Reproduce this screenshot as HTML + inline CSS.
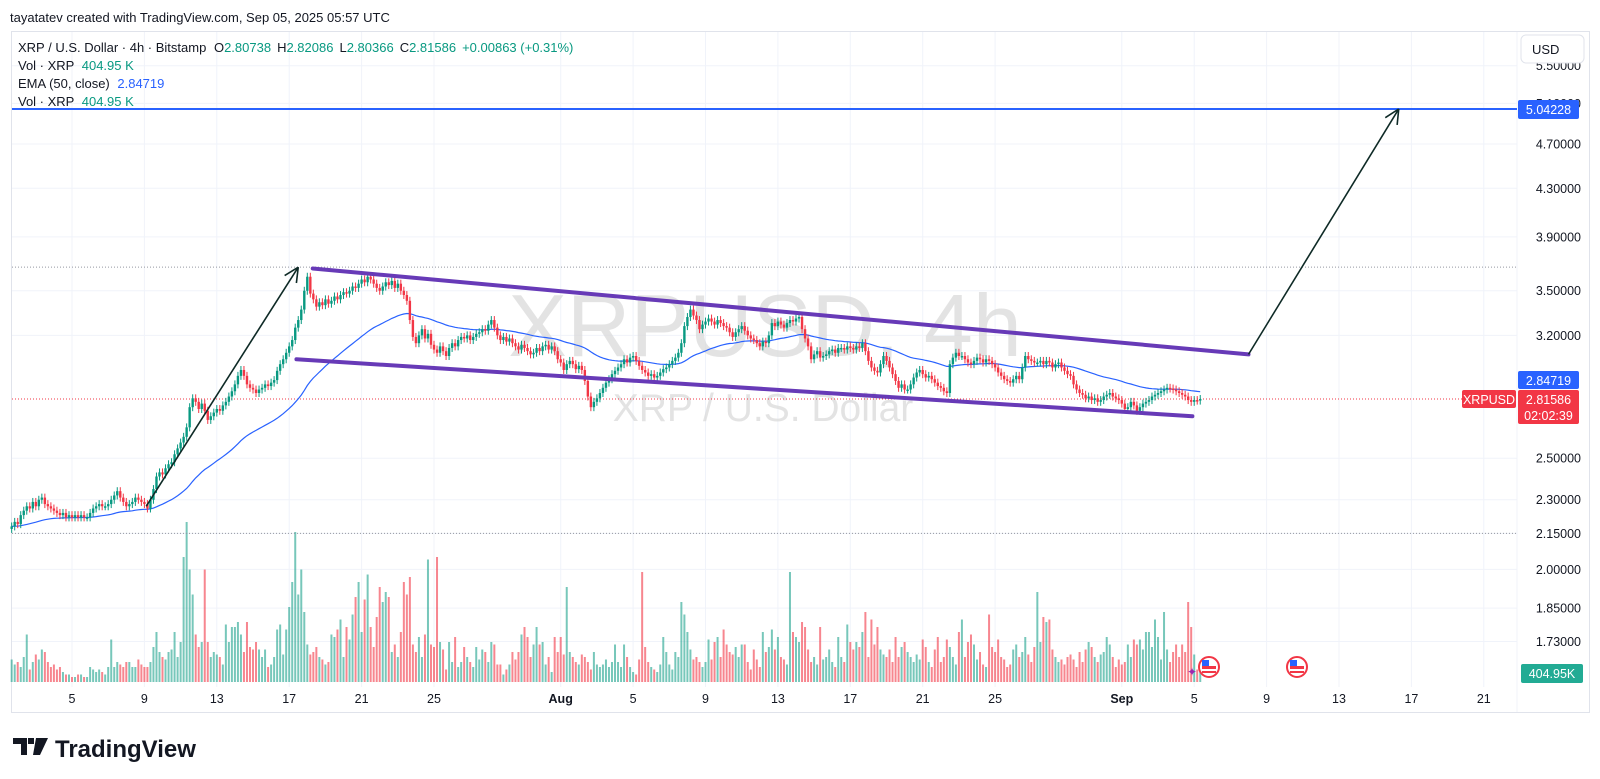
<!DOCTYPE html>
<html><head><meta charset="utf-8"><style>
html,body{margin:0;padding:0;background:#fff;}
body{width:1600px;height:779px;overflow:hidden;position:relative;font-family:"Liberation Sans",sans-serif;}
svg{position:absolute;left:0;top:0;}
</style></head><body>
<svg id="chart" width="1600" height="779" viewBox="0 0 1600 779" xmlns="http://www.w3.org/2000/svg" font-family="Liberation Sans, sans-serif">
  <text x="10" y="22" font-size="13" fill="#131722">tayatatev created with TradingView.com, Sep 05, 2025 05:57 UTC</text>
  <rect x="11.5" y="31.5" width="1578" height="681" fill="#fff" stroke="#e0e3eb"/>
  <g id="grid"></g>
  <g id="watermark">
    <text x="765" y="356" font-size="88" fill="#d9d9d9" fill-opacity="0.75" text-anchor="middle">XRPUSD, 4h</text>
    <text x="763" y="421" font-size="39" fill="#d9d9d9" fill-opacity="0.75" text-anchor="middle">XRP / U.S. Dollar</text>
  </g>
  <g id="vol"></g>
  <g id="lines"></g>
  <path id="ema" fill="none" stroke="#2962ff" stroke-width="1.2"/>
  <g id="candles"></g>
  <g id="draw"></g>
  <g id="axis"></g>
  <g id="taxis"></g>
  <g font-size="13" fill="#131722">
    <text x="18" y="52">XRP / U.S. Dollar · 4h · Bitstamp <tspan dx="4">O</tspan><tspan fill="#089981">2.80738</tspan><tspan dx="6">H</tspan><tspan fill="#089981">2.82086</tspan><tspan dx="6">L</tspan><tspan fill="#089981">2.80366</tspan><tspan dx="6">C</tspan><tspan fill="#089981">2.81586</tspan><tspan dx="6" fill="#089981">+0.00863 (+0.31%)</tspan></text>
    <text x="18" y="70">Vol · XRP <tspan dx="4" fill="#089981">404.95 K</tspan></text>
    <text x="18" y="88">EMA (50, close) <tspan dx="4" fill="#2962ff">2.84719</tspan></text>
    <text x="18" y="106">Vol · XRP <tspan dx="4" fill="#089981">404.95 K</tspan></text>
  </g>
  <g>
    <rect x="1521" y="35" width="63" height="28" rx="5" fill="#fff" stroke="#e0e3eb"/>
    <text x="1532" y="54" font-size="13" fill="#131722">USD</text>
  </g>
  <g>
    <path d="M13 738 h14 v17 h-6 v-11 h-8z M28 738 h6 v6 h-6z M36 738 h12 l-8 17 h-7z" fill="#131722"/>
    <text x="55" y="757" font-size="24" font-weight="bold" fill="#131722">TradingView</text>
  </g>
</svg>
<script>
const closes=[
2.18,2.20,2.19,2.23,2.25,2.27,2.26,2.29,2.27,2.30,
2.31,2.28,2.27,2.26,2.25,2.24,2.23,2.24,2.22,2.23,
2.22,2.23,2.22,2.23,2.22,2.22,2.24,2.26,2.27,2.28,
2.27,2.27,2.28,2.30,2.32,2.34,2.31,2.29,2.27,2.28,
2.29,2.31,2.30,2.29,2.28,2.26,2.30,2.35,2.41,2.43,
2.42,2.45,2.47,2.48,2.52,2.55,2.58,2.61,2.66,2.77,
2.82,2.80,2.76,2.79,2.75,2.70,2.72,2.74,2.76,2.75,
2.78,2.80,2.83,2.86,2.90,2.95,2.985,2.95,2.90,2.88,
2.87,2.85,2.87,2.88,2.90,2.89,2.91,2.925,2.98,3.02,
3.05,3.09,3.13,3.17,3.25,3.30,3.37,3.50,3.60,3.48,
3.44,3.39,3.42,3.40,3.44,3.41,3.43,3.46,3.44,3.47,
3.49,3.48,3.50,3.53,3.52,3.55,3.58,3.56,3.60,3.58,
3.55,3.52,3.50,3.53,3.56,3.54,3.57,3.52,3.55,3.50,
3.47,3.43,3.30,3.19,3.15,3.20,3.24,3.18,3.21,3.14,
3.11,3.09,3.13,3.10,3.07,3.12,3.15,3.13,3.17,3.19,
3.18,3.20,3.17,3.19,3.21,3.22,3.24,3.23,3.27,3.30,
3.25,3.20,3.17,3.19,3.16,3.18,3.15,3.13,3.11,3.14,
3.12,3.10,3.08,3.09,3.12,3.10,3.13,3.14,3.11,3.13,
3.10,3.05,3.03,2.985,3.02,3.04,3.02,2.99,3.01,2.985,
2.92,2.83,2.77,2.80,2.82,2.85,2.88,2.91,2.93,2.96,
2.98,3.00,3.02,3.05,3.03,3.06,3.07,3.04,3.01,2.985,
2.97,2.95,2.96,2.94,2.95,2.97,2.99,3.00,3.02,3.04,
3.06,3.09,3.15,3.26,3.32,3.37,3.33,3.30,3.24,3.27,
3.29,3.31,3.29,3.27,3.30,3.28,3.26,3.25,3.22,3.19,
3.22,3.24,3.26,3.23,3.20,3.18,3.17,3.15,3.13,3.16,
3.15,3.20,3.28,3.26,3.29,3.27,3.25,3.28,3.30,3.29,
3.31,3.32,3.24,3.18,3.13,3.05,3.08,3.10,3.06,3.07,
3.08,3.10,3.11,3.09,3.12,3.12,3.11,3.13,3.12,3.11,
3.13,3.12,3.15,3.10,3.04,3.00,2.98,2.97,3.02,3.07,
3.04,3.00,2.96,2.92,2.88,2.90,2.87,2.87,2.90,2.94,
2.97,2.985,2.96,2.94,2.95,2.93,2.91,2.89,2.88,2.86,
2.85,3.02,3.06,3.09,3.07,3.07,3.05,3.03,3.02,3.04,
3.06,3.05,3.03,3.05,3.04,3.02,3.00,2.97,2.95,2.93,
2.92,2.91,2.93,2.95,2.93,3.00,3.07,3.05,3.04,3.03,
3.03,3.04,3.02,3.04,3.03,3.00,3.02,3.03,3.00,2.98,
2.96,2.95,2.90,2.87,2.85,2.84,2.82,2.83,2.81,2.82,
2.80,2.81,2.83,2.84,2.85,2.83,2.82,2.81,2.79,2.76,
2.77,2.80,2.78,2.75,2.77,2.79,2.80,2.81,2.83,2.84,
2.85,2.86,2.87,2.88,2.876,2.87,2.86,2.85,2.84,2.83,
2.81,2.80,2.81,2.807,2.816];
const volumes=[
0.9,0.7,0.8,0.6,1.0,1.9,0.5,0.8,1.1,0.9,
1.3,1.2,0.8,0.6,0.7,0.5,0.6,0.4,0.3,0.3,
0.2,0.2,0.3,0.3,0.2,0.2,0.6,0.5,0.4,0.5,
0.4,0.3,0.6,1.7,0.6,0.8,0.7,0.6,0.8,0.8,
0.6,0.6,0.9,0.7,0.6,0.6,0.8,1.4,2.0,1.2,
1.0,0.9,1.2,1.3,2.0,1.0,1.6,5.0,6.4,4.5,
3.5,1.9,1.4,1.6,4.5,1.6,1.0,1.2,1.1,1.0,
0.7,2.3,1.6,2.2,2.2,2.4,1.9,1.2,2.4,1.4,
1.3,1.6,1.3,1.0,1.3,0.6,0.7,1.0,2.1,2.3,
1.1,2.1,3.0,4.0,6.0,3.5,4.5,2.8,1.5,1.1,
1.2,1.4,1.0,0.9,0.7,0.8,1.9,1.8,2.1,2.5,
1.0,2.2,1.7,2.7,3.4,4.0,2.0,3.3,4.3,2.2,
1.4,2.6,3.8,3.2,3.6,3.4,1.2,1.5,1.0,2.0,
4.0,3.5,4.2,1.5,1.2,1.8,1.0,1.9,4.9,1.5,
1.4,5.0,1.6,1.3,0.5,1.6,0.8,1.8,0.6,0.8,
1.4,1.0,0.8,0.6,1.4,0.9,1.3,1.2,0.8,1.6,
1.5,0.7,0.7,0.3,0.5,0.7,1.2,0.9,1.2,1.9,
2.2,1.8,1.0,1.5,2.2,1.5,1.6,0.7,1.0,0.4,
1.8,1.2,1.8,1.1,3.8,1.2,1.0,0.8,0.7,1.1,
1.0,0.8,0.5,1.2,0.7,0.6,0.7,0.9,0.6,0.8,
1.5,0.8,0.6,1.5,1.0,0.6,0.4,0.3,0.9,4.4,
1.4,0.8,0.6,0.5,0.4,0.7,1.8,1.2,0.7,0.5,
1.2,1.0,3.2,2.7,2.0,1.3,0.9,1.0,0.8,0.6,
0.8,1.7,0.9,1.6,1.8,1.0,2.1,1.5,1.2,1.1,
1.4,1.0,1.5,1.5,0.8,0.5,1.3,0.9,0.6,2.0,
1.2,1.4,2.1,1.3,1.8,1.0,0.9,0.7,4.4,2.0,
1.8,1.6,2.4,2.2,1.3,0.8,1.0,0.7,2.2,0.9,
1.0,1.3,0.8,0.6,1.8,1.0,0.8,2.3,1.6,1.3,
1.6,1.4,2.0,2.8,1.0,2.5,1.5,2.2,1.3,1.1,
1.0,1.3,0.8,1.8,1.0,1.4,1.6,1.2,1.0,0.8,
1.1,0.9,1.7,1.4,0.8,0.6,1.3,1.8,0.8,1.0,
1.7,1.4,1.0,0.7,2.0,2.5,1.0,1.6,1.9,1.5,
0.9,1.2,0.7,0.6,2.7,1.4,1.2,1.7,1.0,0.9,
0.6,0.7,1.3,1.5,1.0,1.2,1.8,1.1,0.8,1.4,
3.6,1.6,2.6,2.4,2.5,1.3,1.0,0.8,0.9,0.7,
1.0,1.1,0.9,0.6,1.2,0.8,1.3,1.6,1.4,1.0,
0.8,1.1,1.2,1.8,1.5,1.0,0.6,0.9,0.7,0.8,
1.5,1.0,1.7,1.5,1.7,1.3,2.0,2.0,1.4,2.5,
1.8,0.9,2.8,1.3,0.8,1.2,1.5,1.0,1.5,1.2,
3.2,2.2,1.1,0.5,0.4];
const priceTicks=[5.5,5.1,4.7,4.3,3.9,3.5,3.2,2.5,2.3,2.15,2.0,1.85,1.73];
const timeLabels=["5","9","13","17","21","25","Aug","5","9","13","17","21","25","Sep","5","9","13","17","21"];
const timeLabelDays=[4,8,12,16,20,24,31,35,39,43,47,51,55,62,66,70,74,78,82];
const firstCandleDay=0.667;
const targetPrice=5.04228, lastPrice=2.81586, emaPrice=2.84719, peakPrice=3.67;
const upperChannel=[[17.3,3.66],[69.0,3.08]];
const lowerChannel=[[16.4,3.05],[65.9,2.72]];
const impulseArrow=[[8.1,2.27],[16.5,3.67]];
const targetArrow=[[69.0,3.08],[77.3,5.04228]];

const NS="http://www.w3.org/2000/svg";
const xDay=d=>-0.4+18.1*d;
const yP=p=>109+497.8*Math.log(targetPrice/p);
const xIdx=i=>xDay(firstCandleDay+i/6);
const volBase=682, volScale=25;
function mk(tag,attrs,parent){const e=document.createElementNS(NS,tag);for(const k in attrs)e.setAttribute(k,attrs[k]);parent.appendChild(e);return e;}
const grid=document.getElementById('grid');
priceTicks.forEach(p=>{const l=mk('line',{x1:12,x2:1517,y1:yP(p),y2:yP(p),stroke:'#f0f3fa'},grid);

});
timeLabelDays.forEach(d=>{const l=mk('line',{x1:xDay(d),x2:xDay(d),y1:32,y2:687,stroke:'#f0f3fa'},grid);

});
mk('line',{x1:1517,x2:1517,y1:32,y2:712,stroke:'#f0f3fa'},grid);
const vol=document.getElementById('vol');
closes.forEach((c,i)=>{const o=i?closes[i-1]:c;const h=volumes[i]*volScale;
const r=mk('rect',{x:xIdx(i)-1,y:volBase-h,width:2,height:h,fill:c>=o?'rgba(8,153,129,0.55)':'rgba(242,54,69,0.6)'},vol);

});
const lines=document.getElementById('lines');
mk('line',{x1:12,x2:1517,y1:yP(peakPrice),y2:yP(peakPrice),stroke:'#9598a1','stroke-dasharray':'1 2'},lines);
mk('line',{x1:12,x2:1517,y1:yP(2.15),y2:yP(2.15),stroke:'#9598a1','stroke-dasharray':'1 2'},lines);
mk('line',{x1:12,x2:1462,y1:yP(lastPrice),y2:yP(lastPrice),stroke:'#f23645','stroke-dasharray':'1 2'},lines);
let e=closes[0],k=2/51,d='';
closes.forEach((c,i)=>{e=i?c*k+e*(1-k):c;d+=(i?'L':'M')+xIdx(i).toFixed(1)+' '+yP(e).toFixed(1);});
document.getElementById('ema').setAttribute('d',d);
const cg=document.getElementById('candles');
closes.forEach((c,i)=>{const o=i?closes[i-1]:c*0.995;const col=c>=o?'#089981':'#f23645';
const hi=Math.max(o,c)*1.008,lo=Math.min(o,c)*0.992,x=xIdx(i);
const g=mk('g',{},cg);


mk('line',{x1:x,x2:x,y1:yP(hi),y2:yP(lo),stroke:col,'stroke-width':1},g);
const t=yP(Math.max(o,c)),b=yP(Math.min(o,c));
mk('rect',{x:x-1.2,y:t,width:2.4,height:Math.max(1.5,b-t),fill:col},g);});
const dr=document.getElementById('draw');
const pt=a=>[xDay(a[0]),yP(a[1])];
function seg(a,b,attrs,name){const p=pt(a),q=pt(b);const l=mk('line',Object.assign({x1:p[0],y1:p[1],x2:q[0],y2:q[1]},attrs),dr);

return [p,q];}
const hz=mk('line',{x1:12,x2:1517,y1:yP(targetPrice),y2:yP(targetPrice),stroke:'#2962ff','stroke-width':2},dr);


seg(upperChannel[0],upperChannel[1],{stroke:'#673ab7','stroke-width':4,'stroke-linecap':'round'},'channel-upper');
seg(lowerChannel[0],lowerChannel[1],{stroke:'#673ab7','stroke-width':4,'stroke-linecap':'round'},'channel-lower');
function arrow(a,b,name){const [p,q]=seg(a,b,{stroke:'#0e2a26','stroke-width':1.6},name);
const ang=Math.atan2(q[1]-p[1],q[0]-p[0]);[0.45,-0.45].forEach(s=>{
const hx=q[0]-16*Math.cos(ang+s),hy=q[1]-16*Math.sin(ang+s);
const l=mk('line',{x1:q[0],y1:q[1],x2:hx,y2:hy,stroke:'#0e2a26','stroke-width':1.6},dr);

});}
arrow(impulseArrow[0],impulseArrow[1],'impulse-arrow');
arrow(targetArrow[0],targetArrow[1],'target-arrow');
[[1209,667],[1297,667]].forEach(f=>{const g=mk('g',{},dr);


mk('circle',{cx:f[0],cy:f[1],r:10,fill:'#fff',stroke:'#f23645','stroke-width':2},g);
mk('rect',{x:f[0]-7,y:f[1]-1,width:14,height:3,fill:'#f23645'},g);
mk('rect',{x:f[0]-7,y:f[1]+4,width:14,height:2,fill:'#f23645'},g);
mk('rect',{x:f[0]-7,y:f[1]-7,width:7,height:6,fill:'#2962ff'},g);});
const star=mk('text',{x:1187,y:676,'font-size':12,fill:'#9c27b0'},dr);star.textContent='✦';


const ax=document.getElementById('axis');
priceTicks.forEach(p=>{const t=mk('text',{x:1581,y:yP(p)+4.5,'font-size':12.5,fill:'#131722','text-anchor':'end'},ax);t.textContent=p.toFixed(5);

});
function badge(x,y,w,h,fill,txt,name,txt2){const g=mk('g',{},ax);


mk('rect',{x:x,y:y,width:w,height:h,fill:fill,rx:2},g);
const t=mk('text',{x:x+w/2,y:y+14,'font-size':12.5,fill:'#fff','text-anchor':'middle'},g);t.textContent=txt;
if(txt2){const t2=mk('text',{x:x+w/2,y:y+30,'font-size':12.5,fill:'#fff','text-anchor':'middle'},g);t2.textContent=txt2;}}
badge(1518,yP(targetPrice)-9,61,19,'#2962ff',targetPrice.toFixed(5),'target-price-label');
badge(1518,371,61,18,'#2962ff',emaPrice.toFixed(5),'ema-price-label');
badge(1518,390,61,34,'#f23645',lastPrice.toFixed(5),'last-price-label','02:02:39');
badge(1462,390,54,18,'#f23645','XRPUSD','symbol-label');
badge(1521,664,62,19,'#22ab94','404.95K','volume-label');
const ta=document.getElementById('taxis');
timeLabels.forEach((s,i)=>{const bold=(s==='Aug'||s==='Sep');const t=mk('text',{x:xDay(timeLabelDays[i]),y:703,'font-size':12.5,'font-weight':bold?'bold':'normal',fill:'#131722','text-anchor':'middle'},ta);t.textContent=s;

});
</script>
</body></html>
